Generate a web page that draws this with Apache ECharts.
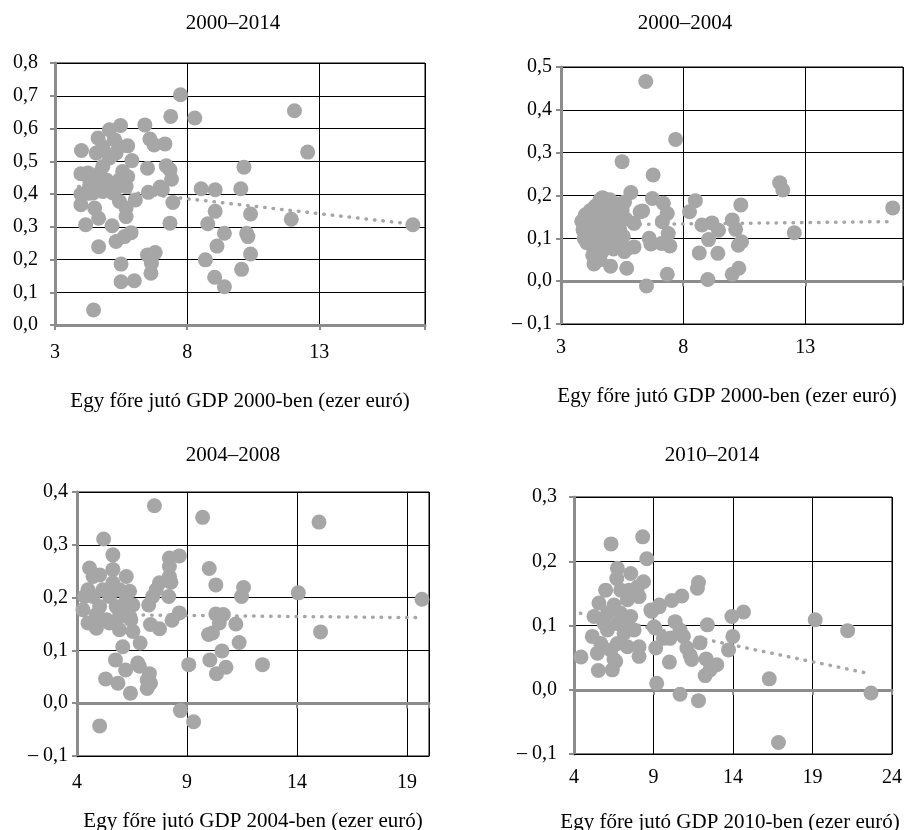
<!DOCTYPE html>
<html><head><meta charset="utf-8">
<script src="https://cdn.jsdelivr.net/npm/echarts@6/dist/echarts.min.js"></script>
<style>html,body{margin:0;padding:0;background:#fff}#c{width:904px;height:830px}</style>
</head><body><div id="c"></div>
<script>
// ---------- data ----------
const panelTitles = ['2000–2014', '2000–2004', '2004–2008', '2010–2014'];
const xTitles = ['Egy főre jutó GDP 2000-ben (ezer euró)', 'Egy főre jutó GDP 2000-ben (ezer euró)',
                 'Egy főre jutó GDP 2004-ben (ezer euró)', 'Egy főre jutó GDP 2010-ben (ezer euró)'];
const xTicks1 = [3, 8, 13];
const xTicks2 = [3, 8, 13];
const xTicks3 = [4, 9, 14, 19];
const xTicks4 = [4, 9, 14, 19, 24];

const p1 = [[7.75,0.703],[7.38,0.637],[8.29,0.632],[12.06,0.654],[12.56,0.528],[16.54,0.306],[11.94,0.323],
[10.15,0.482],[10.03,0.416],[10.40,0.339],[10.25,0.280],[10.30,0.270],[10.40,0.217],[10.06,0.170],[9.41,0.280],
[9.13,0.241],[9.04,0.146],[9.41,0.117],[8.69,0.199],[8.78,0.309],[9.06,0.347],[9.06,0.413],[8.53,0.416],[7.46,0.374],
[7.35,0.311],[7.41,0.445],[7.35,0.474],[7.21,0.486],[7.16,0.553],[7.06,0.413],[6.98,0.421],[6.79,0.221],[6.63,0.199],
[6.63,0.158],[6.50,0.214],[6.50,0.479],[6.53,0.405],[6.40,0.611],[6.59,0.568],[6.75,0.550],[6.00,0.135],[5.50,0.132],
[5.50,0.186],[5.88,0.282],[5.63,0.270],[5.31,0.255],[5.16,0.303],[4.65,0.239],[4.46,0.046],[4.16,0.306],[4.65,0.326],
[4.50,0.357],[3.98,0.367],[3.98,0.400],[3.98,0.462],[4.00,0.533],[4.63,0.571],[4.56,0.525],[5.06,0.596],[5.48,0.609],
[5.75,0.547],[5.91,0.502],[6.04,0.382],[5.69,0.331],[5.69,0.357],[5.44,0.377],[5.75,0.453],[5.56,0.469],[5.19,0.433],
[4.81,0.408],[4.31,0.423],[4.31,0.443],[4.69,0.464],[4.94,0.443],[4.81,0.484],[5.06,0.510],[5.31,0.525],[5.44,0.545],
[5.25,0.566],[4.81,0.545],[4.25,0.464],[4.44,0.403],[5.44,0.443],[5.19,0.403],[5.69,0.423],[5.20,0.520],[5.64,0.448],
[4.76,0.433],[6.65,0.188],[4.26,0.402],[5.26,0.412]];

const p2 = [[6.47,0.466],[7.69,0.331],[5.50,0.279],[6.77,0.248],[11.95,0.230],[12.08,0.213],[16.58,0.171],[10.36,0.178],
[12.55,0.113],[8.50,0.188],[8.26,0.162],[10.01,0.143],[10.15,0.121],[10.39,0.092],[10.26,0.084],[10.28,0.030],
[10.01,0.016],[9.42,0.065],[8.66,0.066],[9.01,0.004],[9.04,0.097],[9.18,0.136],[9.45,0.119],[8.77,0.131],[7.35,0.016],
[6.50,-0.011],[5.69,0.030],[7.46,0.082],[7.39,0.111],[7.11,0.088],[6.61,0.100],[6.68,0.087],[7.19,0.182],[7.35,0.158],
[7.15,0.139],[6.74,0.193],[6.34,0.164],[5.86,0.207],[5.99,0.135],[5.99,0.080],[5.59,0.069],[5.03,0.035],[4.35,0.040],
[6.24,0.162],[3.85,0.140],[3.90,0.120],[3.95,0.100],[4.00,0.155],[4.05,0.090],[4.10,0.130],[4.15,0.110],[4.20,0.165],
[4.25,0.145],[4.30,0.080],[4.35,0.120],[4.40,0.175],[4.45,0.100],[4.50,0.135],[4.55,0.155],[4.60,0.190],[4.65,0.115],
[4.70,0.070],[4.75,0.145],[4.80,0.170],[4.85,0.125],[4.90,0.095],[4.95,0.185],[5.00,0.150],[5.05,0.110],[5.10,0.130],
[5.15,0.075],[5.20,0.160],[5.25,0.100],[5.30,0.180],[5.35,0.140],[5.40,0.120],[5.45,0.090],[5.50,0.165],[5.55,0.105],
[5.65,0.145],[5.70,0.075],[4.30,0.060],[4.60,0.050],[5.60,0.185],[4.10,0.155],[4.80,0.085],[4.70,0.195],[5.00,0.190]];

const p3 = [[7.52,0.374],[9.71,0.352],[15.00,0.343],[14.06,0.209],[19.68,0.197],[15.07,0.135],[12.43,0.073],[10.01,0.255],
[10.31,0.224],[11.57,0.219],[11.48,0.202],[11.22,0.150],[11.37,0.115],[10.31,0.169],[10.65,0.168],[10.47,0.152],
[10.16,0.133],[9.98,0.130],[10.59,0.099],[10.04,0.082],[10.77,0.068],[10.34,0.056],[9.08,0.073],[8.70,-0.014],
[9.30,-0.035],[5.03,-0.043],[8.65,0.279],[8.20,0.275],[8.20,0.259],[8.20,0.240],[8.27,0.229],[7.75,0.228],[7.60,0.215],
[7.44,0.202],[7.26,0.186],[8.17,0.202],[8.65,0.171],[8.32,0.157],[7.75,0.141],[7.34,0.149],[6.87,0.114],[7.19,0.044],
[7.34,0.038],[7.19,0.028],[7.29,0.056],[6.84,0.070],[6.76,0.076],[6.21,0.063],[6.43,0.019],[5.86,0.038],[5.30,0.046],
[5.75,0.082],[5.21,0.311],[5.63,0.281],[5.63,0.253],[6.24,0.240],[4.57,0.256],[4.73,0.240],[5.03,0.243],[6.39,0.212],
[6.08,0.107],[6.54,0.136],[5.93,0.139],[4.88,0.142],[4.50,0.152],[4.35,0.202],[4.50,0.215],[5.03,0.183],[5.48,0.202],
[5.78,0.183],[6.24,0.171],[6.54,0.186],[6.39,0.164],[4.88,0.168],[5.33,0.158],[5.63,0.228],[5.93,0.215],[4.73,0.202],
[5.18,0.215],[5.48,0.152],[5.93,0.164],[4.27,0.177],[6.24,0.196],[6.45,0.158]];

const p4 = [[6.33,0.227],[8.32,0.238],[8.58,0.204],[19.17,0.109],[21.21,0.092],[22.68,-0.005],[16.28,0.017],[16.86,-0.082],
[9.20,0.010],[10.67,-0.007],[11.83,-0.017],[14.66,0.121],[13.93,0.114],[13.99,0.083],[13.72,0.062],[12.39,0.101],
[11.93,0.073],[11.76,0.158],[11.83,0.167],[10.78,0.146],[10.15,0.139],[9.37,0.132],[8.89,0.122],[10.36,0.106],
[10.67,0.093],[10.88,0.083],[11.10,0.065],[11.30,0.054],[11.40,0.047],[12.31,0.048],[12.98,0.039],[12.56,0.031],
[12.25,0.022],[10.00,0.043],[9.14,0.065],[9.10,0.096],[10.04,0.080],[9.62,0.080],[4.44,0.051],[5.53,0.030],[6.41,0.031],
[6.62,0.044],[6.73,0.189],[7.57,0.181],[6.69,0.173],[8.37,0.168],[7.99,0.160],[5.99,0.155],[7.46,0.155],[5.57,0.135],
[6.52,0.132],[7.36,0.140],[8.09,0.145],[8.83,0.124],[9.35,0.129],[6.10,0.119],[5.26,0.114],[6.94,0.119],[7.57,0.114],
[5.15,0.083],[5.68,0.072],[6.10,0.093],[6.73,0.103],[7.15,0.088],[7.78,0.093],[8.09,0.067],[8.09,0.052],[6.52,0.047],
[6.31,0.062],[6.73,0.072],[5.47,0.057],[7.15,0.103],[9.04,0.098],[7.36,0.067],[5.89,0.103],[6.94,0.155]];

// linear trend lines (end points)
const trend1 = [[3.9,0.423],[16.5,0.308]];
const trend2 = [[3.8,0.131],[16.5,0.139]];
const trend3 = [[4.3,0.168],[19.6,0.162]];
const trend4 = [[4.4,0.119],[22.6,0.025]];

// ---------- chart ----------
const FONT = 'Liberation Serif';
const GRAY = '#8c8c8c';
const DOT = '#a6a6a6';
const grids = [
  {left:55, top:63, width:370, height:262},
  {left:561, top:67, width:342, height:257},
  {left:77, top:492, width:352, height:264},
  {left:574, top:497, width:318, height:257}
];
const xRange = [[3,17],[3,17],[4,20],[4,24]];
const yRange = [[0,0.8],[-0.1,0.5],[-0.1,0.4],[-0.1,0.3]];
const yMargins = [17, 9, 9, 17];
const xMargins = [18, 14, 17, 14];
const titlePos = [[228,8],[680,8],[228,440],[707,440]];
const xTitlePos = [[235,386],[722,381],[248,806],[725,807]];
const tickLists = [xTicks1, xTicks2, xTicks3, xTicks4];
const dataSets = [p1, p2, p3, p4];
const trends = [trend1, trend2, trend3, trend4];

function fmtY(v){
  if (Math.abs(v) < 1e-9) return '0,0';
  const s = Math.abs(v).toFixed(1).replace('.', ',');
  return v < 0 ? '– ' + s : s;
}

const option = {
  backgroundColor: '#fff',
  animation: false,
  title: [],
  grid: grids.map(g => Object.assign({show:true, borderColor:'#000', borderWidth:1,
                                       backgroundColor:'transparent', containLabel:false,
                                       outerBoundsMode:'none'}, g)),
  xAxis: [],
  yAxis: [],
  series: []
};

panelTitles.forEach((t,i) => {
  option.title.push({text:t, left:titlePos[i][0], top:titlePos[i][1], textAlign:'center',
    textStyle:{fontFamily:FONT, fontSize:21, fontWeight:'normal', color:'#000'}});
  option.title.push({text:xTitles[i], left:xTitlePos[i][0], top:xTitlePos[i][1], textAlign:'center',
    textStyle:{fontFamily:FONT, fontSize:21, fontWeight:'normal', color:'#000'}});
});

for (let i = 0; i < 4; i++) {
  const ticks = tickLists[i];
  option.xAxis.push({
    type:'value', gridIndex:i, min:xRange[i][0], max:xRange[i][1], interval:5, position:'bottom',
    axisLine:{show:true, onZero:false, lineStyle:{color: i===0 ? GRAY : '#000', width: i===0 ? 3 : 1}},
    axisTick:{show: i===0, length:5, lineStyle:{color:GRAY, width:2}},
    axisLabel:{show:true, margin:xMargins[i], fontFamily:FONT, fontSize:20, color:'#000',
      showMinLabel:true, showMaxLabel:true,
      formatter: v => ticks.indexOf(Math.round(v*1000)/1000) >= 0 ? String(v) : ''},
    splitLine:{show:true, lineStyle:{color:'#000', width:1}}
  });
  option.yAxis.push({
    type:'value', gridIndex:i, min:yRange[i][0], max:yRange[i][1], interval:0.1,
    axisLine:{show:true, onZero:false, lineStyle:{color:GRAY, width:3}},
    axisTick:{show:true, length:5, lineStyle:{color:GRAY, width:2}},
    axisLabel:{margin:yMargins[i], fontFamily:FONT, fontSize:20, color:'#000', formatter: fmtY},
    splitLine:{show:true, lineStyle:{color:'#000', width:1}}
  });
}
// zero lines (panels 2-4)
for (let i = 1; i < 4; i++) {
  option.xAxis.push({
    type:'value', gridIndex:i, min:xRange[i][0], max:xRange[i][1], interval:5, position:'bottom',
    axisLine:{show:true, onZero:true, lineStyle:{color:GRAY, width:3}},
    axisTick:{show:true, length:5, lineStyle:{color:GRAY, width:2}},
    axisLabel:{show:false}, splitLine:{show:false}
  });
}

for (let i = 0; i < 4; i++) {
  option.series.push({
    type:'line', xAxisIndex:i, yAxisIndex:i, data:trends[i], symbol:'none', silent:true, z:2,
    lineStyle:{color:DOT, width:3.5, type:[0.5,8], cap:'round'}
  });
  option.series.push({
    type:'scatter', xAxisIndex:i, yAxisIndex:i, data:dataSets[i], symbol:'circle', symbolSize:15, z:3,
    itemStyle:{color:DOT, opacity:1, borderWidth:0}
  });
}

const chart = echarts.init(document.getElementById('c'), null, {renderer:'canvas'});
chart.setOption(option);
</script>
</body></html>
